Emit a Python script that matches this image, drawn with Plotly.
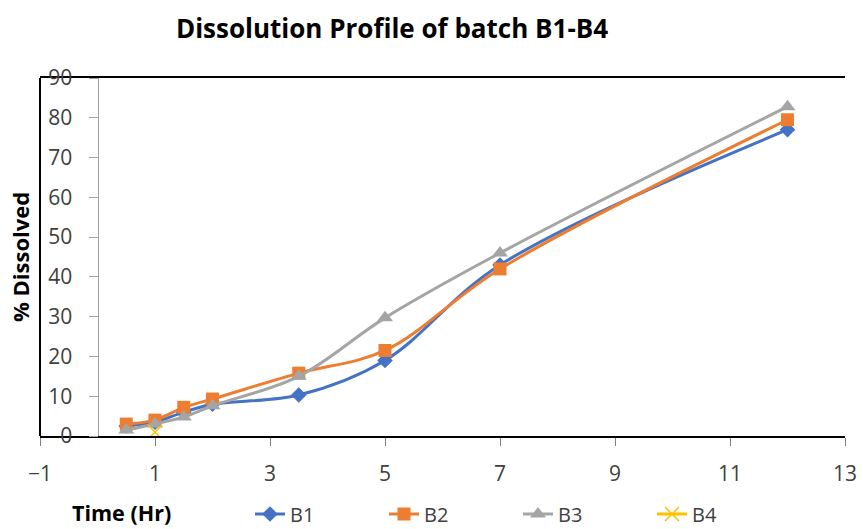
import plotly.graph_objects as go

time_b = [0.5, 1, 1.5, 2, 3.5, 5, 7, 12]
b1 = [2.5, 3.5, 6, 8, 10.3, 19, 43, 77]
b2 = [3, 4, 7.2, 9.3, 15.8, 21.5, 42, 79.5]
b3 = [1.5, 3, 4.8, 7.6, 15, 29.7, 46, 82.8]
time_b4 = [1]
b4 = [1]

x_ticks = [-1, 1, 3, 5, 7, 9, 11, 13]
y_ticks = [0, 10, 20, 30, 40, 50, 60, 70, 80, 90]

FONT = "Open Sans"
TXT = "#404040"

fig = go.Figure()
specs = [
    ("B1", time_b, b1, "#4472C4", dict(symbol="diamond", size=12)),
    ("B2", time_b, b2, "#ED7D31", dict(symbol="square", size=13)),
    ("B3", time_b, b3, "#A5A5A5", dict(symbol="triangle-up", size=14)),
]
for name, xs, ys, col, mk in specs:
    fig.add_trace(go.Scatter(
        x=xs, y=ys, name=name, mode="lines+markers",
        line=dict(color=col, width=3, shape="spline", smoothing=1),
        marker=dict(color=col, **mk),
    ))
fig.add_trace(go.Scatter(
    x=time_b4, y=b4, name="B4", mode="lines+markers",
    line=dict(color="#FFC000", width=3),
    marker=dict(symbol="x-thin-open", size=14, line=dict(color="#FFC000", width=1.5), color="#FFC000"),
))

fig.update_layout(
    width=863, height=529,
    margin=dict(l=40, r=18, t=78, b=93, autoexpand=False),
    paper_bgcolor="white", plot_bgcolor="white",
    font=dict(family=FONT, color=TXT, size=20),
    title=dict(text="<b>Dissolution Profile of batch B1-B4</b>", x=392 / 863, xanchor="center",
               y=1 - 29 / 529, yanchor="middle", font=dict(size=26, color="black", family=FONT)),
    xaxis=dict(range=[-1, 13], tickvals=x_ticks, showgrid=False, zeroline=False,
               showline=True, linecolor="black", linewidth=2, mirror=True,
               ticks="outside", ticklen=8, tickcolor="#808080", ticklabelstandoff=10,
               tickfont=dict(size=21, color=TXT)),
    yaxis=dict(range=[0, 90], tickvals=y_ticks, showgrid=False, zeroline=False,
               anchor="free", position=(97.5 - 40) / 805,
               showline=True, linecolor="#A0A0A0", linewidth=1,
               ticks="outside", ticklen=9, tickcolor="#A0A0A0", ticklabelstandoff=12,
               tickfont=dict(size=21, color=TXT)),
    legend=dict(orientation="h", x=(250 - 40) / 805, xanchor="left", y=(436 - 514) / 358, yanchor="middle",
                entrywidth=89, entrywidthmode="pixels", font=dict(size=20, color=TXT),
                bgcolor="rgba(0,0,0,0)"),
    showlegend=True,
)
fig.add_shape(type="line", xref="paper", yref="paper", x0=0, x1=0, y0=0, y1=1,
              line=dict(color="black", width=2))
fig.add_annotation(text="<b>Time (Hr)</b>", xref="paper", yref="paper",
                   x=(121 - 40) / 805, y=(436 - 512) / 358, xanchor="center", yanchor="middle",
                   showarrow=False, font=dict(size=21.5, color="black", family=FONT))
fig.add_annotation(text="<b>% Dissolved</b>", xref="paper", yref="paper",
                   x=(20 - 40) / 805, y=(436 - 257) / 358, xanchor="center", yanchor="middle",
                   textangle=-90, showarrow=False, font=dict(size=22, color="black", family=FONT))
fig.write_html("out.html")
